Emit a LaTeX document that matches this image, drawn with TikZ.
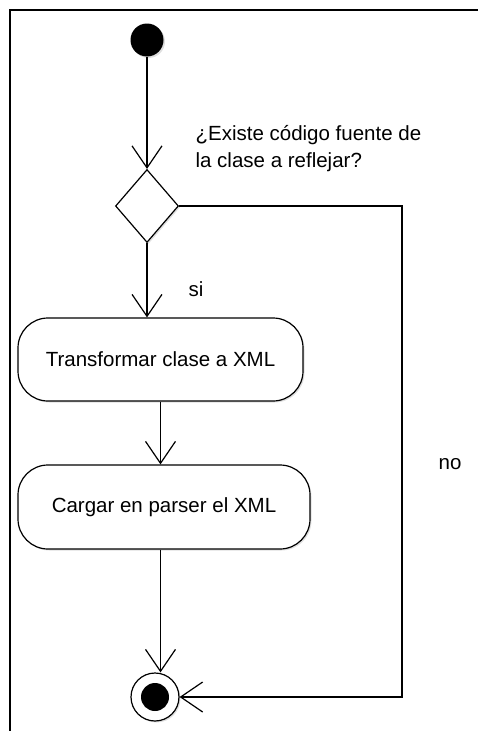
\documentclass[tikz,border=0pt]{standalone}
\usepackage{fontspec}
\setmainfont{Liberation Sans}
\usetikzlibrary{shapes.geometric,arrows.meta,shadows}
\begin{document}
\begin{tikzpicture}[x=1pt,y=-1pt,
  line width=1.2pt,
  every node/.style={font=\fontsize{20.5}{27}\selectfont},
  arr/.style={-{Straight Barb[length=22pt,width=30pt,line width=1.2pt]}},
  activity/.style={draw, rounded corners=30pt, inner sep=0pt, fill=white,
     drop shadow={opacity=0.25,shadow xshift=1.5pt,shadow yshift=-1.5pt}},
  lbl/.style={inner sep=0pt}]
\useasboundingbox (0,0) rectangle (478,731);
\draw[line width=1.5pt] (10,731) -- (10,10) -- (478,10);

\node[circle, fill=black, minimum size=33pt, inner sep=0pt,
  drop shadow={opacity=0.25,shadow xshift=1.5pt,shadow yshift=-1.5pt}] (start) at (147,40) {};
\node[diamond, draw, fill=white, minimum width=63pt, minimum height=73pt, inner sep=0pt,
  drop shadow={opacity=0.25,shadow xshift=1.5pt,shadow yshift=-1.5pt}] (dec) at (147,206) {};
\node[activity, minimum width=285pt, minimum height=83pt] (transf) at (160.5,359.5) {Transformar clase a XML};
\node[activity, minimum width=292pt, minimum height=84pt] (cargar) at (164,507) {Cargar en parser el XML};
\node[circle, draw, fill=white, minimum size=48pt, inner sep=0pt,
  drop shadow={opacity=0.25,shadow xshift=1.5pt,shadow yshift=-1.5pt}] (final) at (155,697) {};
\node[circle, fill=black, minimum size=28pt, inner sep=0pt] (finalin) at (155,697) {};

\node[lbl, anchor=base west, align=left] (q) at (195,167) {¿Existe código fuente de\\la clase a reflejar?};
\node[lbl] (si) at (196,289) {si};
\node[lbl] (no) at (450,464) {no};

\coordinate (c1) at (402,206);
\coordinate (c2) at (402,697);

\draw[arr] (start) -- (dec.north);
\draw[arr] (dec.south) -- (dec.south |- transf.north);
\draw[arr] (transf.south) -- (transf.south |- cargar.north);
\draw[arr] (cargar.south -| transf.south) -- (transf.south |- final.north);
\draw[arr] (dec.east) -- (c1) -- (c2) -- (final.east);
\end{tikzpicture}
\end{document}
